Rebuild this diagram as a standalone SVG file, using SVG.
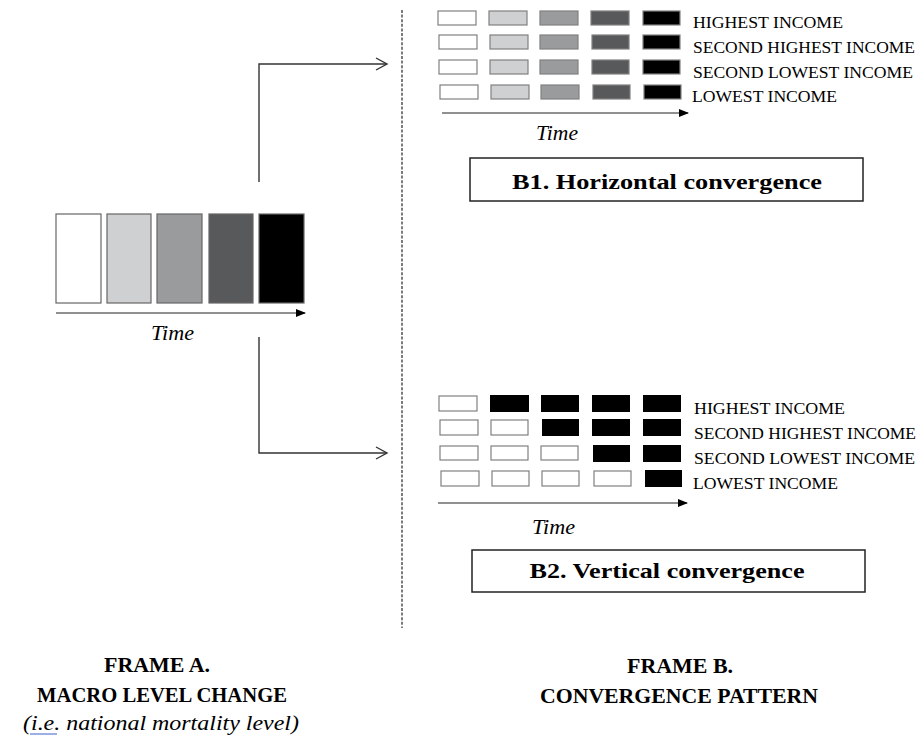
<svg xmlns="http://www.w3.org/2000/svg" width="923" height="736" viewBox="0 0 923 736">
<style>
text{font-family:"Liberation Serif","Times New Roman",serif;fill:#000}
.lbl{font-size:17.5px}
.time{font-size:20px;font-style:italic}
.head{font-size:21.5px;font-weight:bold}
.frame{font-size:21px;font-weight:bold}
.cell{stroke:#808080;stroke-width:1.2}
.w{fill:#fff}.l{fill:#cfd0d2}.m{fill:#9a9b9d}.d{fill:#58595b}.k{fill:#000}
.big{stroke:#666;stroke-width:1.2}
.conn{fill:none;stroke:#333;stroke-width:1.4}
.axis{stroke:#222;stroke-width:1.2}
.box{fill:#fff;stroke:#222;stroke-width:1.5}
</style>
<defs>
<marker id="tri" markerWidth="10" markerHeight="8" refX="9" refY="4" orient="auto" markerUnits="userSpaceOnUse">
<path d="M0,0 L10,4 L0,8 Z" fill="#000"/>
</marker>
<marker id="open" markerWidth="14" markerHeight="14" refX="12" refY="7" orient="auto" markerUnits="userSpaceOnUse">
<path d="M1,1 L12,7 L1,13" fill="none" stroke="#333" stroke-width="1.4"/>
</marker>
</defs>
<rect width="923" height="736" fill="#fff"/>

<g id="frameA">
<rect class="big w" x="56" y="214" width="45" height="89"/>
<rect class="big l" x="107" y="214" width="44" height="89"/>
<rect class="big m" x="157" y="214" width="45" height="89"/>
<rect class="big d" x="209" y="214" width="44" height="89"/>
<rect class="big k" x="259" y="214" width="45" height="89"/>
<line class="axis" x1="56" y1="313" x2="305" y2="313" marker-end="url(#tri)"/>
<text class="time" x="151" y="340" textLength="43" lengthAdjust="spacingAndGlyphs">Time</text>
</g>

<g id="divider">
<line x1="402" y1="10" x2="402" y2="628" stroke="#444" stroke-width="1.4" stroke-dasharray="3,1.6"/>
</g>

<g id="connectors">
<path class="conn" d="M259,182 V64 H387" marker-end="url(#open)"/>
<path class="conn" d="M259,337 V453 H387" marker-end="url(#open)"/>
</g>

<g id="B1">
<g>
<rect class="cell w" x="438" y="11" width="38" height="14"/>
<rect class="cell l" x="489" y="11" width="38" height="14"/>
<rect class="cell m" x="540" y="11" width="38" height="14"/>
<rect class="cell d" x="591" y="11" width="38" height="14"/>
<rect class="cell k" x="643" y="11" width="37" height="14"/>
<rect class="cell w" x="439" y="35" width="38" height="14"/>
<rect class="cell l" x="490" y="35" width="38" height="14"/>
<rect class="cell m" x="540" y="35" width="38" height="14"/>
<rect class="cell d" x="592" y="35" width="37" height="14"/>
<rect class="cell k" x="643" y="35" width="37" height="14"/>
<rect class="cell w" x="439" y="60" width="38" height="14"/>
<rect class="cell l" x="490" y="60" width="38" height="14"/>
<rect class="cell m" x="540" y="60" width="38" height="14"/>
<rect class="cell d" x="592" y="60" width="37" height="14"/>
<rect class="cell k" x="643" y="60" width="37" height="14"/>
<rect class="cell w" x="440" y="85" width="38" height="14"/>
<rect class="cell l" x="491" y="85" width="38" height="14"/>
<rect class="cell m" x="541" y="85" width="38" height="14"/>
<rect class="cell d" x="593" y="85" width="37" height="14"/>
<rect class="cell k" x="644" y="85" width="37" height="14"/>
</g>
<text class="lbl" x="693" y="28" textLength="150" lengthAdjust="spacingAndGlyphs">HIGHEST INCOME</text>
<text class="lbl" x="693" y="53" textLength="222" lengthAdjust="spacingAndGlyphs">SECOND HIGHEST INCOME</text>
<text class="lbl" x="693" y="78" textLength="220" lengthAdjust="spacingAndGlyphs">SECOND LOWEST INCOME</text>
<text class="lbl" x="692" y="102" textLength="145" lengthAdjust="spacingAndGlyphs">LOWEST INCOME</text>
<line class="axis" x1="442" y1="113" x2="688" y2="113" marker-end="url(#tri)"/>
<text class="time" x="536" y="140" textLength="42" lengthAdjust="spacingAndGlyphs">Time</text>
</g>

<g id="B1label">
<rect class="box" x="470" y="158" width="393" height="43"/>
<text class="head" x="667" y="189" text-anchor="middle" textLength="310" lengthAdjust="spacingAndGlyphs">B1. Horizontal convergence</text>
</g>

<g id="B2">
<g>
<rect class="cell w" x="439" y="396" width="38" height="15"/>
<rect class="k" x="490" y="395" width="39" height="17"/>
<rect class="k" x="541" y="395" width="38" height="17"/>
<rect class="k" x="592" y="395" width="38" height="17"/>
<rect class="k" x="643" y="395" width="38" height="17"/>
<rect class="cell w" x="440" y="420" width="38" height="15"/>
<rect class="cell w" x="491" y="420" width="37" height="15"/>
<rect class="k" x="542" y="419" width="37" height="17"/>
<rect class="k" x="592" y="419" width="38" height="17"/>
<rect class="k" x="643" y="419" width="38" height="17"/>
<rect class="cell w" x="440" y="446" width="38" height="14"/>
<rect class="cell w" x="491" y="446" width="37" height="14"/>
<rect class="cell w" x="541" y="446" width="37" height="14"/>
<rect class="k" x="593" y="445" width="37" height="17"/>
<rect class="k" x="643" y="445" width="38" height="17"/>
<rect class="cell w" x="441" y="471" width="38" height="15"/>
<rect class="cell w" x="492" y="471" width="37" height="15"/>
<rect class="cell w" x="542" y="471" width="37" height="15"/>
<rect class="cell w" x="594" y="471" width="37" height="15"/>
<rect class="k" x="645" y="470" width="37" height="17"/>
</g>
<text class="lbl" x="694" y="414" textLength="151" lengthAdjust="spacingAndGlyphs">HIGHEST INCOME</text>
<text class="lbl" x="694" y="439" textLength="222" lengthAdjust="spacingAndGlyphs">SECOND HIGHEST INCOME</text>
<text class="lbl" x="694" y="464" textLength="221" lengthAdjust="spacingAndGlyphs">SECOND LOWEST INCOME</text>
<text class="lbl" x="693" y="489" textLength="145" lengthAdjust="spacingAndGlyphs">LOWEST INCOME</text>
<line class="axis" x1="438" y1="503" x2="687" y2="503" marker-end="url(#tri)"/>
<text class="time" x="532" y="534" textLength="43" lengthAdjust="spacingAndGlyphs">Time</text>
</g>

<g id="B2label">
<rect class="box" x="472" y="550" width="393" height="42"/>
<text class="head" x="667" y="578" text-anchor="middle" textLength="275" lengthAdjust="spacingAndGlyphs">B2. Vertical convergence</text>
</g>

<g id="frameAtitle">
<text class="frame" x="157" y="672" text-anchor="middle" textLength="106" lengthAdjust="spacingAndGlyphs">FRAME A.</text>
<text class="frame" x="162" y="702" text-anchor="middle" textLength="250" lengthAdjust="spacingAndGlyphs">MACRO LEVEL CHANGE</text>
<text class="time" x="161" y="730" text-anchor="middle" textLength="276" lengthAdjust="spacingAndGlyphs">(i.e. national mortality level)</text>
<line x1="30" y1="734" x2="57" y2="734" stroke="#3a5fcd" stroke-width="1"/>
</g>

<g id="frameBtitle">
<text class="frame" x="680" y="673" text-anchor="middle" textLength="106" lengthAdjust="spacingAndGlyphs">FRAME B.</text>
<text class="frame" x="679" y="703" text-anchor="middle" textLength="278" lengthAdjust="spacingAndGlyphs">CONVERGENCE PATTERN</text>
</g>
</svg>
